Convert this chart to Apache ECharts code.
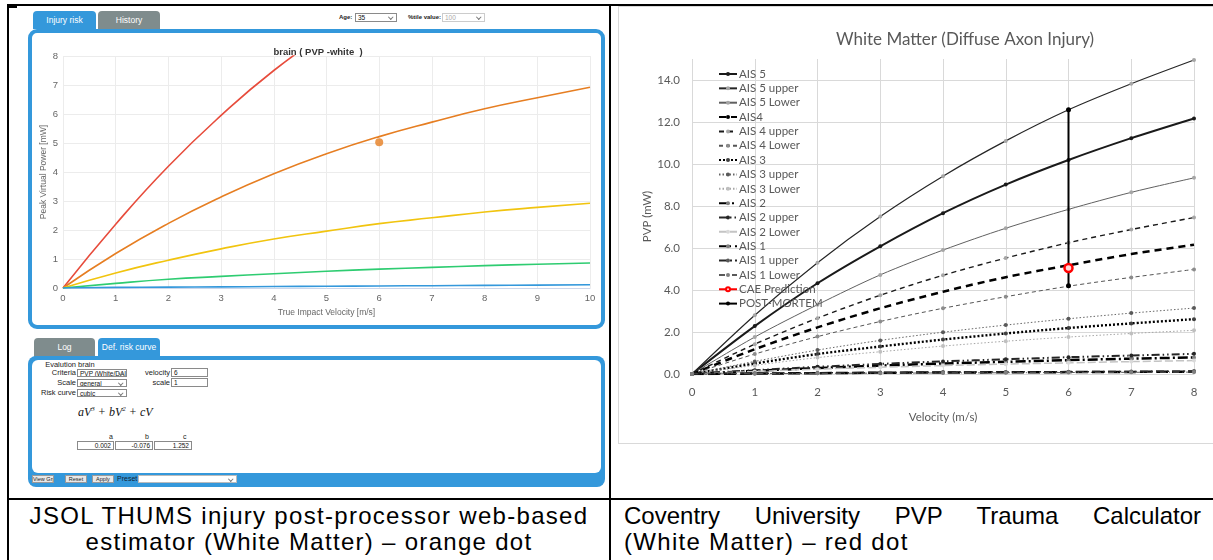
<!DOCTYPE html>
<html><head><meta charset="utf-8">
<script src="https://cdn.jsdelivr.net/npm/echarts@6/dist/echarts.min.js"></script>
<style>
html,body{margin:0;padding:0}
body{width:1213px;height:560px;overflow:hidden;background:#fff;font-family:'Liberation Sans',Arial,sans-serif;position:relative}
.ln{position:absolute;background:#000}
.tab{position:absolute;height:18px;border-radius:4px 4px 0 0;color:#fff;font-size:8.5px;line-height:18px;text-align:center}
.blue{background:#3498db}
.gray{background:#7f8c8d}
.panel{position:absolute;box-sizing:border-box}
.lbl{position:absolute;font-size:7.5px;line-height:9px;color:#222;white-space:nowrap}
.r{text-align:right}
.box{position:absolute;border:1px solid #8a8a8a;background:#fff;font-size:6.5px;line-height:7px;padding:0 2px;box-sizing:border-box;color:#111;white-space:nowrap;overflow:hidden}
.chev::after{content:'';position:absolute;right:4px;top:1px;width:2.5px;height:2.5px;border-right:1px solid #777;border-bottom:1px solid #777;transform:rotate(45deg)}
.btn{position:absolute;top:475px;height:8px;background:#e8e8e8;border:1px solid #9a9a9a;box-sizing:border-box;font-size:5.5px;line-height:6px;text-align:center;color:#222;white-space:nowrap;overflow:hidden}
.cap{position:absolute;font-size:24px;line-height:26px;color:#000;font-family:'Liberation Sans',Arial,sans-serif;letter-spacing:1.3px;white-space:nowrap}
.math{position:absolute;font-family:'Liberation Serif','DejaVu Serif',serif;font-style:italic;font-size:12px;color:#111;white-space:nowrap}
.math sup{font-size:7px;vertical-align:5px;font-style:italic}
#chart{position:absolute;left:0;top:0;width:1213px;height:560px;pointer-events:none}
</style>
</head>
<body>
<!-- table frame -->
<div class="ln" style="left:7px;top:4px;width:1206px;height:2px"></div>
<div class="ln" style="left:7px;top:4px;width:2px;height:556px"></div>
<div class="ln" style="left:609px;top:4px;width:2px;height:556px"></div>
<div class="ln" style="left:7px;top:498px;width:1206px;height:2px"></div>
<div class="ln" style="left:7px;top:5px;width:10px;height:3px"></div>

<!-- left top UI -->
<div class="tab blue" style="left:33px;top:11px;width:63px">Injury risk</div>
<div class="tab gray" style="left:98px;top:11px;width:62px">History</div>
<div class="lbl" style="left:339px;top:13px;font-size:6px;font-weight:bold">Age:</div>
<div class="box chev" style="left:355px;top:13px;width:42px;height:9px">35</div>
<div class="lbl" style="left:408px;top:13px;font-size:6px;font-weight:bold">%tile value:</div>
<div class="box chev" style="left:442px;top:13px;width:43px;height:9px;color:#aaa;border-color:#ccc">100</div>
<div class="panel" style="left:28px;top:29px;width:577px;height:300px;border:4px solid #3498db;border-radius:9px;background:#fff"></div>

<!-- left bottom UI -->
<div class="tab gray" style="left:34px;top:338px;width:61px;height:19px;line-height:19px">Log</div>
<div class="tab blue" style="left:98px;top:338px;width:62px;height:19px;line-height:19px">Def. risk curve</div>
<div class="panel" style="left:28px;top:356px;width:577px;height:131px;background:#3498db;border-radius:8px"></div>
<div class="panel" style="left:32px;top:360px;width:569px;height:113px;background:#fff;border-radius:6px"></div>
<div class="lbl r" style="left:20px;top:360px;width:56px">Evalution</div>
<div class="lbl" style="left:78px;top:360px">brain</div>
<div class="lbl r" style="left:20px;top:368px;width:56px">Criteria</div>
<div class="box chev" style="left:77px;top:369px;width:50px;height:8px">PVP (White/DAI</div>
<div class="lbl r" style="left:120px;top:368px;width:50px">velocity</div>
<div class="box" style="left:171px;top:368px;width:37px;height:9px">6</div>
<div class="lbl r" style="left:20px;top:378px;width:56px">Scale</div>
<div class="box chev" style="left:77px;top:379px;width:50px;height:8px">general</div>
<div class="lbl r" style="left:120px;top:378px;width:50px">scale</div>
<div class="box" style="left:171px;top:378px;width:37px;height:9px">1</div>
<div class="lbl r" style="left:20px;top:388px;width:56px">Risk curve</div>
<div class="box chev" style="left:77px;top:389px;width:50px;height:8px">cubic</div>
<div class="math" style="left:78px;top:405px">aV<sup>3</sup> + bV<sup>2</sup> + cV</div>
<div class="lbl" style="left:109px;top:432px;font-size:7px">a</div>
<div class="lbl" style="left:145px;top:432px;font-size:7px">b</div>
<div class="lbl" style="left:183px;top:432px;font-size:7px">c</div>
<div class="box r" style="left:77px;top:441px;width:37px;height:9px">0.002</div>
<div class="box r" style="left:115px;top:441px;width:38px;height:9px">-0.076</div>
<div class="box r" style="left:154px;top:441px;width:38px;height:9px">1.252</div>
<div class="btn" style="left:32px;width:22px">View Grp</div>
<div class="btn" style="left:65px;width:22px">Reset</div>
<div class="btn" style="left:92px;width:22px">Apply</div>
<div class="lbl" style="left:117px;top:474px;font-size:7px;color:#123">Preset</div>
<div class="box chev" style="left:138px;top:475px;width:99px;height:8px;border-color:#bbb"></div>

<!-- right chart frame -->
<div class="panel" style="left:618px;top:6px;width:595px;height:438px;border:1px solid #d9d9d9;border-right:none;background:#fff"></div>

<!-- captions -->
<div class="cap" style="left:9px;top:503px;width:600px;text-align:center">JSOL THUMS injury post-processor web-based</div>
<div class="cap" style="left:9px;top:529px;width:600px;text-align:center">estimator (White Matter) – orange dot</div>
<div class="cap" style="left:624px;top:503px;width:577px;text-align:justify;text-align-last:justify;letter-spacing:0">Coventry University PVP Trauma Calculator</div>
<div class="cap" style="left:624px;top:529px">(White Matter) – red dot</div>

<div id="chart"></div>
<script>
// ---------- Left chart: JSOL THUMS estimator ----------
const thumsVelocity = [0, 1, 2, 3, 4, 5, 6, 7, 8, 9, 10];
const thumsRedVelocity = [0, 1, 2, 3, 4, 5];
const thumsRed    = [0, 2.2, 4.2, 5.95, 7.5, 8.8];
const thumsOrange = [0, 1.19, 2.23, 3.14, 3.94, 4.63, 5.22, 5.72, 6.18, 6.56, 6.92];
const thumsYellow = [0, 0.52, 0.96, 1.35, 1.69, 1.96, 2.22, 2.42, 2.62, 2.78, 2.92];
const thumsGreen  = [0, 0.16, 0.3, 0.4, 0.49, 0.58, 0.65, 0.71, 0.77, 0.82, 0.86];
const thumsBlue   = [0, 0.02, 0.03, 0.04, 0.05, 0.06, 0.07, 0.08, 0.09, 0.1, 0.11];
const thumsPoint  = [6, 5.03];
const thumsXTicks = [0, 10, 1];
const thumsYTicks = [0, 8, 1];

// ---------- Right chart: Coventry PVP calculator ----------
const pvpVelocity = [0, 1, 2, 3, 4, 5, 6, 7, 8];
const ais5      = [0, 2.28, 4.32, 6.08, 7.66, 9.02, 10.19, 11.23, 12.17];
const ais5Upper = [0, 2.8, 5.3, 7.5, 9.42, 11.1, 12.58, 13.82, 14.95];
const ais5Lower = [0, 1.76, 3.3, 4.72, 5.9, 6.94, 7.84, 8.65, 9.34];
const ais4      = [0, 1.18, 2.22, 3.13, 3.92, 4.61, 5.18, 5.71, 6.16];
const ais4Upper = [0, 1.42, 2.66, 3.75, 4.7, 5.52, 6.25, 6.88, 7.45];
const ais4Lower = [0, 0.95, 1.78, 2.5, 3.13, 3.68, 4.18, 4.6, 4.98];
const ais3      = [0, 0.5, 0.95, 1.31, 1.64, 1.93, 2.19, 2.41, 2.61];
const ais3Upper = [0, 0.6, 1.14, 1.6, 1.99, 2.33, 2.63, 2.9, 3.14];
const ais3Lower = [0, 0.41, 0.78, 1.06, 1.33, 1.56, 1.76, 1.93, 2.08];
const ais2      = [0, 0.15, 0.28, 0.4, 0.5, 0.58, 0.66, 0.73, 0.79];
const ais2Upper = [0, 0.18, 0.34, 0.48, 0.6, 0.7, 0.8, 0.88, 0.96];
const ais2Lower = [0, 0.12, 0.23, 0.32, 0.4, 0.47, 0.53, 0.59, 0.64];
const ais1      = [0, 0.02, 0.04, 0.06, 0.07, 0.08, 0.09, 0.1, 0.11];
const ais1Upper = [0, 0.03, 0.05, 0.07, 0.09, 0.1, 0.11, 0.12, 0.14];
const ais1Lower = [0, 0.015, 0.03, 0.04, 0.05, 0.06, 0.07, 0.08, 0.09];
const caePrediction = [6, 5.05];
const postMortemV = [6, 6];
const postMortem  = [4.2, 12.58];
const pvpXTicks = [0, 8, 1];
const pvpYTicks = [0, 15, 2];
const legendNames = ['AIS 5','AIS 5 upper','AIS 5 Lower','AIS4','AIS 4 upper','AIS 4 Lower','AIS 3','AIS 3 upper','AIS 3 Lower','AIS 2','AIS 2 upper','AIS 2 Lower','AIS 1','AIS 1 upper','AIS 1 Lower','CAE Prediction','POST-MORTEM'];

function pairs(xs, ys) { return ys.map((y, i) => [xs[i], y]); }

const chart = echarts.init(document.getElementById('chart'), null, {renderer: 'canvas'});
const hcFont = 'Liberation Sans';
const xlFont = 'Lato';

function thumsLine(name, ys, color, xs) {
  return {name, type: 'line', xAxisIndex: 0, yAxisIndex: 0, data: pairs(xs || thumsVelocity, ys),
    smooth: true, symbol: 'none', lineStyle: {color, width: 1.6}, z: 3};
}
function pvpLine(name, ys, line, mark, opts) {
  return Object.assign({name, type: 'line', xAxisIndex: 1, yAxisIndex: 1, data: pairs(pvpVelocity, ys),
    smooth: 0.3, symbol: mark ? 'circle' : 'none', symbolSize: 4,
    itemStyle: {color: mark || line.color}, lineStyle: line, z: 3}, opts || {});
}

const gridColors = n => { const a = []; for (let i = 0; i < n; i++) a.push('#d9d9d9'); a.push('rgba(0,0,0,0)'); return a; };

const option = {
  animation: false,
  backgroundColor: 'transparent',
  title: [
    {text: 'brain ( PVP -white  )', left: 313, top: 42, textAlign: 'center',
     textStyle: {fontSize: 9.5, fontWeight: 'bold', color: '#333', fontFamily: hcFont}},
    {text: 'White Matter (Diffuse Axon Injury)', left: 960, top: 26, textAlign: 'center',
     textStyle: {fontSize: 17, fontWeight: 'normal', color: '#595959', fontFamily: xlFont}}
  ],
  grid: [
    {left: 63, top: 56, width: 527, height: 232},
    {left: 692, top: 59, width: 502, height: 315}
  ],
  xAxis: [
    {gridIndex: 0, type: 'value', min: thumsXTicks[0], max: thumsXTicks[1], interval: thumsXTicks[2],
     name: 'True Impact Velocity [m/s]', nameLocation: 'middle', nameGap: 20,
     nameTextStyle: {color: '#666', fontSize: 8.5, fontFamily: hcFont},
     axisLine: {lineStyle: {color: '#ccd6eb'}}, axisTick: {show: false},
     axisLabel: {color: '#666', fontSize: 9.5, margin: 5, fontFamily: hcFont},
     splitLine: {lineStyle: {color: '#ececec'}}},
    {gridIndex: 1, type: 'value', min: pvpXTicks[0], max: pvpXTicks[1], interval: pvpXTicks[2],
     name: 'Velocity (m/s)', nameLocation: 'middle', nameGap: 37,
     nameTextStyle: {color: '#595959', fontSize: 11.5, fontFamily: xlFont},
     axisLine: {lineStyle: {color: '#d9d9d9'}}, axisTick: {show: false},
     axisLabel: {color: '#595959', fontSize: 11.5, margin: 12, fontFamily: xlFont},
     splitLine: {lineStyle: {color: '#d9d9d9'}}}
  ],
  yAxis: [
    {gridIndex: 0, type: 'value', min: thumsYTicks[0], max: thumsYTicks[1], interval: thumsYTicks[2],
     name: 'Peak Virtual Power [mW]', nameLocation: 'middle', nameGap: 15,
     nameTextStyle: {color: '#666', fontSize: 8.5, fontFamily: hcFont},
     axisLine: {show: false}, axisTick: {show: false},
     axisLabel: {color: '#666', fontSize: 9.5, margin: 5, fontFamily: hcFont},
     splitLine: {lineStyle: {color: '#ececec'}}},
    {gridIndex: 1, type: 'value', min: pvpYTicks[0], max: pvpYTicks[1], interval: pvpYTicks[2],
     name: 'PVP (mW)', nameLocation: 'middle', nameGap: 38,
     nameTextStyle: {color: '#595959', fontSize: 11.5, fontFamily: xlFont},
     axisLine: {show: false}, axisTick: {show: false},
     axisLabel: {color: '#595959', fontSize: 11.5, margin: 12, fontFamily: xlFont, showMaxLabel: false,
       formatter: v => v.toFixed(1)},
     splitLine: {lineStyle: {color: gridColors(8)}}}
  ],
  legend: {
    data: legendNames, orient: 'vertical', left: 718, top: 67, itemWidth: 18, itemHeight: 5, itemGap: 0.35,
    padding: 0, selectedMode: false,
    textStyle: {color: '#595959', fontSize: 11.5, lineHeight: 14, fontFamily: xlFont, padding: [0, 0, 0, -3]}
  },
  series: [
    thumsLine('THUMS red', thumsRed, '#e74c3c', thumsRedVelocity),
    thumsLine('THUMS orange', thumsOrange, '#e67e22'),
    thumsLine('THUMS yellow', thumsYellow, '#f1c40f'),
    thumsLine('THUMS green', thumsGreen, '#2ecc71'),
    thumsLine('THUMS blue', thumsBlue, '#3498db'),
    {name: 'THUMS point', type: 'scatter', xAxisIndex: 0, yAxisIndex: 0, data: [thumsPoint],
     symbolSize: 8, itemStyle: {color: '#e67e22'}, z: 5},

    pvpLine('AIS 5', ais5, {color: '#1a1a1a', width: 2}, '#1a1a1a'),
    pvpLine('AIS 5 upper', ais5Upper, {color: '#262626', width: 1.2}, '#a6a6a6'),
    pvpLine('AIS 5 Lower', ais5Lower, {color: '#606060', width: 1}, '#a6a6a6'),
    pvpLine('AIS4', ais4, {color: '#000', width: 2.5, type: [7, 5]}, null),
    pvpLine('AIS 4 upper', ais4Upper, {color: '#1a1a1a', width: 1.4, type: [5, 4]}, '#a6a6a6'),
    pvpLine('AIS 4 Lower', ais4Lower, {color: '#555', width: 1, type: [4, 3]}, '#8c8c8c'),
    pvpLine('AIS 3', ais3, {color: '#000', width: 2.4, type: [2, 2]}, '#404040'),
    pvpLine('AIS 3 upper', ais3Upper, {color: '#666', width: 1, type: [1.5, 2]}, '#595959'),
    pvpLine('AIS 3 Lower', ais3Lower, {color: '#a6a6a6', width: 1, type: [1.5, 2]}, '#bfbfbf'),
    pvpLine('AIS 2', ais2, {color: '#000', width: 2.5, type: [10, 3, 2, 3]}, '#808080'),
    pvpLine('AIS 2 upper', ais2Upper, {color: '#262626', width: 2, type: [8, 3, 1.5, 3, 1.5, 3]}, '#262626'),
    pvpLine('AIS 2 Lower', ais2Lower, {color: '#c4c4c4', width: 1.5, type: [8, 3]}, '#d9d9d9'),
    pvpLine('AIS 1', ais1, {color: '#000', width: 2.5, type: [12, 4]}, '#808080'),
    pvpLine('AIS 1 upper', ais1Upper, {color: '#262626', width: 1.5, type: [8, 3, 2, 3]}, '#595959'),
    pvpLine('AIS 1 Lower', ais1Lower, {color: '#595959', width: 1, type: [6, 3, 1, 3]}, '#808080'),
    {name: 'CAE Prediction', type: 'line', xAxisIndex: 1, yAxisIndex: 1, data: [caePrediction],
     symbol: 'circle', symbolSize: 8, lineStyle: {color: '#ff0000', width: 3},
     itemStyle: {color: '#ffd6d6', borderColor: '#ff0000', borderWidth: 2.5}, z: 6},
    {name: 'POST-MORTEM', type: 'line', xAxisIndex: 1, yAxisIndex: 1, data: pairs(postMortemV, postMortem),
     symbol: 'circle', symbolSize: 5, lineStyle: {color: '#000', width: 2},
     itemStyle: {color: '#000'}, z: 5}
  ]
};
chart.setOption(option);
</script>
</body></html>
